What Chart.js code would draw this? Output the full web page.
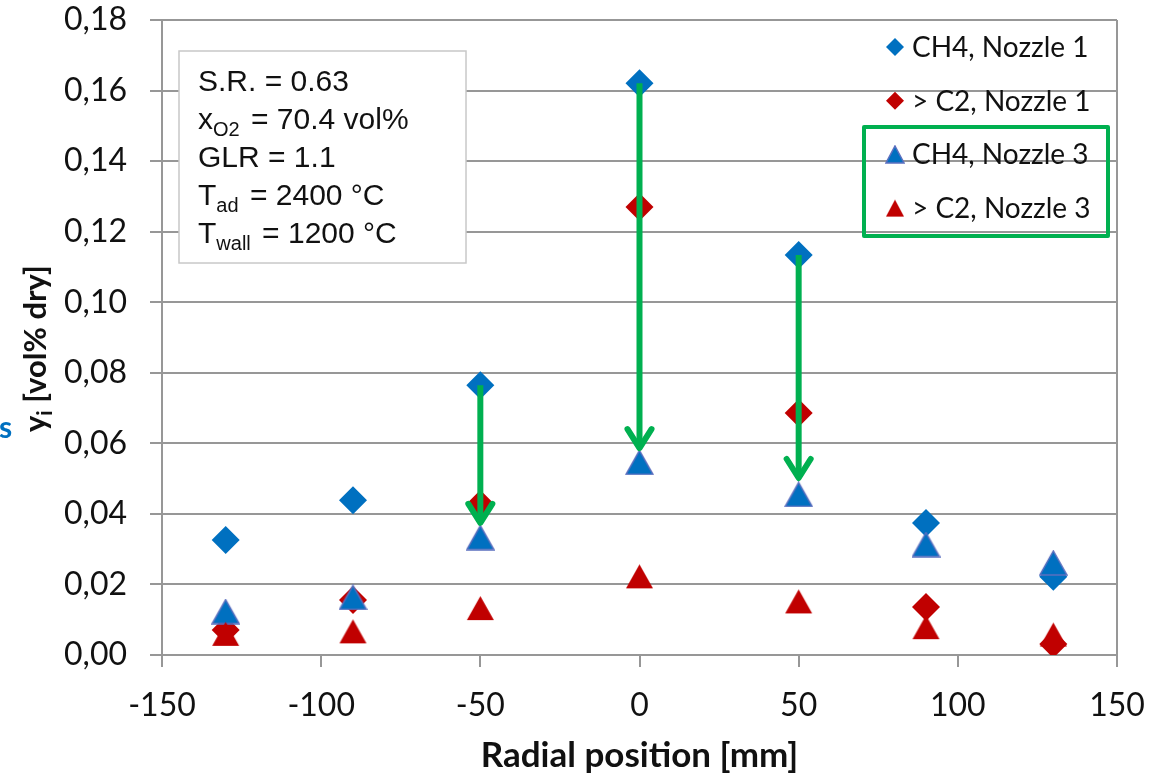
<!DOCTYPE html>
<html><head><meta charset="utf-8">
<script src="https://cdn.jsdelivr.net/npm/chart.js@4.4.1/dist/chart.umd.min.js"></script>
<style>html,body{margin:0;padding:0;background:#fff}#wrap{width:1151px;height:774px;position:relative}</style>
</head><body><div id="wrap"><canvas id="c"></canvas></div>
<script>
const positions = [-130, -90, -50, 0, 50, 90, 130];
const ch4Nozzle1 = [0.0326, 0.0439, 0.0765, 0.1621, 0.1134, 0.0374, 0.0222];
const c2Nozzle1  = [0.0071, 0.0156, 0.0428, 0.1270, 0.0686, 0.0136, 0.0031];
const ch4Nozzle3 = [0.0123, 0.0163, 0.0333, 0.0546, 0.0455, 0.0313, 0.0261];
const c2Nozzle3  = [0.0060, 0.0067, 0.0133, 0.0223, 0.0152, 0.0079, 0.0058];
const seriesLabels = ['CH4, Nozzle 1', '> C2, Nozzle 1', 'CH4, Nozzle 3', '> C2, Nozzle 3'];
const xTickLabels = ['-150', '-100', '-50', '0', '50', '100', '150'];
const yTickLabels = ['0,00', '0,02', '0,04', '0,06', '0,08', '0,10', '0,12', '0,14', '0,16', '0,18'];
const arrowPositions = [-50, 0, 50];
const arrowEnds = [0.0369, 0.0581, 0.0496];
const infoLines = [
  [['S.R. = 0.63', 0]],
  [['x', 0], ['O2', 1], [' = 70.4 vol%', 0]],
  [['GLR = 1.1', 0]],
  [['T', 0], ['ad', 1], [' = 2400 °C', 0]],
  [['T', 0], ['wall', 1], [' = 1200 °C', 0]]
];

const BLUE = '#0070C0', RED = '#C00000', GREEN = '#00B050', GRID = '#979797';

function makeTri(w, h, fill, stroke) {
  const c = document.createElement('canvas');
  c.width = w; c.height = h;
  const g = c.getContext('2d');
  g.beginPath();
  g.moveTo(w / 2, 1); g.lineTo(w - 1, h - 1); g.lineTo(1, h - 1); g.closePath();
  g.fillStyle = fill; g.fill();
  if (stroke) { g.strokeStyle = stroke; g.lineWidth = 1.5; g.stroke(); }
  return c;
}
const triBlue = makeTri(29, 26, BLUE, '#5b6fbf');
const triRed = makeTri(29, 26, RED, null);
const triBlueSm = makeTri(20, 19, BLUE, '#5b6fbf');
const triRedSm = makeTri(20, 19, RED, null);

const pts = arr => positions.map((x, i) => ({ x: x, y: arr[i] }));

const annot = {
  id: 'annot',
  afterDatasetsDraw(chart) {
    const ctx = chart.ctx, xs = chart.scales.x, ys = chart.scales.y, ca = chart.chartArea;
    ctx.save();
    ctx.strokeStyle = GRID; ctx.lineWidth = 2;
    ctx.beginPath(); ctx.moveTo(ca.right, ca.top); ctx.lineTo(ca.right, ca.bottom); ctx.stroke();
    ctx.strokeStyle = GREEN; ctx.lineWidth = 6;
    arrowPositions.forEach((p, k) => {
      const idx = positions.indexOf(p);
      const x = xs.getPixelForValue(p);
      const y1 = ys.getPixelForValue(ch4Nozzle1[idx]);
      const y2 = ys.getPixelForValue(arrowEnds[k]);
      ctx.lineCap = 'butt';
      ctx.beginPath(); ctx.moveTo(x, y1); ctx.lineTo(x, y2 - 3); ctx.stroke();
      ctx.lineCap = 'round'; ctx.lineJoin = 'round';
      ctx.beginPath(); ctx.moveTo(x - 12, y2 - 21); ctx.lineTo(x, y2 - 2); ctx.lineTo(x + 12, y2 - 21); ctx.stroke();
    });
    ctx.restore();
  },
  afterDraw(chart) {
    const ctx = chart.ctx, ca = chart.chartArea;
    ctx.save();
    const bx = ca.left + 17, by = ca.top + 31, bw = 287, bh = 212;
    ctx.fillStyle = '#fff'; ctx.fillRect(bx, by, bw, bh);
    ctx.strokeStyle = '#c8c8c8'; ctx.lineWidth = 1.5; ctx.strokeRect(bx, by, bw, bh);
    ctx.fillStyle = '#111'; ctx.textBaseline = 'alphabetic'; ctx.textAlign = 'left';
    infoLines.forEach((line, li) => {
      let x = bx + 19;
      const base = by + 40 + li * 38;
      line.forEach(([t, sub]) => {
        ctx.font = sub ? '20px "Liberation Sans", Arial, sans-serif' : '30px "Liberation Sans", Arial, sans-serif';
        ctx.fillText(t, x, base + (sub ? 7 : 0));
        x += ctx.measureText(t).width + (sub ? 3 : 0);
      });
    });
    const lx = ca.right - 222, ltx = ca.right - 205;
    const markers = ['d' + BLUE, 'd' + RED, triBlueSm, triRedSm];
    ctx.font = '28px Lato, "Noto Sans", sans-serif';
    ctx.textBaseline = 'middle';
    seriesLabels.forEach((lab, i) => {
      const y = ca.top + 27 + i * 53.7;
      const m = markers[i];
      if (typeof m === 'string') {
        ctx.fillStyle = m.slice(1);
        ctx.beginPath(); ctx.moveTo(lx - 9, y); ctx.lineTo(lx, y - 9); ctx.lineTo(lx + 9, y); ctx.lineTo(lx, y + 9); ctx.closePath(); ctx.fill();
      } else {
        ctx.drawImage(m, lx - m.width / 2, y - m.height / 2);
      }
      ctx.fillStyle = '#111';
      ctx.fillText(lab, ltx, y + 1);
    });
    ctx.strokeStyle = GREEN; ctx.lineWidth = 4; ctx.lineJoin = 'round';
    ctx.strokeRect(ca.right - 253, ca.top + 107, 244, 109);
    ctx.save();
    ctx.translate(46, 432);
    ctx.rotate(-Math.PI / 2);
    ctx.fillStyle = '#111'; ctx.textBaseline = 'alphabetic';
    let tx = 0;
    ctx.font = 'bold 31px Lato, "Noto Sans", sans-serif';
    ctx.fillText('y', tx, 0); tx += ctx.measureText('y').width;
    ctx.font = 'bold 21px Lato, "Noto Sans", sans-serif';
    ctx.fillText('i', tx, 6); tx += ctx.measureText('i').width;
    ctx.font = 'bold 31px Lato, "Noto Sans", sans-serif';
    ctx.fillText(' [vol% dry]', tx, 0);
    ctx.restore();
    ctx.fillStyle = BLUE; ctx.font = 'bold 30px Lato, "Noto Sans", sans-serif';
    ctx.textBaseline = 'alphabetic';
    ctx.fillText('s', -1, 438);
    ctx.restore();
  }
};

new Chart(document.getElementById('c'), {
  type: 'scatter',
  data: {
    datasets: [
      { label: seriesLabels[0], data: pts(ch4Nozzle1), pointStyle: 'rectRot', pointRadius: 14, pointHoverRadius: 14, pointBackgroundColor: BLUE, pointBorderWidth: 0, order: 4 },
      { label: seriesLabels[1], data: pts(c2Nozzle1), pointStyle: 'rectRot', pointRadius: 14, pointHoverRadius: 14, pointBackgroundColor: RED, pointBorderWidth: 0, order: 3 },
      { label: seriesLabels[2], data: pts(ch4Nozzle3), pointStyle: triBlue, pointRadius: 14, pointHoverRadius: 14, order: 2 },
      { label: seriesLabels[3], data: pts(c2Nozzle3), pointStyle: triRed, pointRadius: 14, pointHoverRadius: 14, order: 1 }
    ]
  },
  options: {
    responsive: true, maintainAspectRatio: false, animation: false,
    layout: { padding: { left: 0, right: 34, top: 20, bottom: 0 } },
    plugins: { legend: { display: false }, tooltip: { enabled: false } },
    scales: {
      x: {
        type: 'linear', min: -150, max: 150,
        ticks: { stepSize: 50, color: '#111', padding: 19, font: { family: 'Lato', size: 32 },
          callback: (v, i) => xTickLabels[i] },
        grid: { drawOnChartArea: false, drawTicks: true, tickLength: 12, color: GRID, lineWidth: 2 },
        border: { display: true, color: GRID, width: 2 },
        title: { display: true, text: 'Radial position [mm]', color: '#111', font: { family: 'Lato', size: 35, weight: 'bold' }, padding: { top: 0, bottom: -3 } },
        afterFit: s => { s.height = 119; s.paddingLeft = 0; s.paddingRight = 0; }
      },
      y: {
        type: 'linear', min: 0, max: 0.18,
        ticks: { stepSize: 0.02, color: '#111', padding: 23, font: { family: 'Lato', size: 32 },
          callback: (v, i) => yTickLabels[i] },
        grid: { drawOnChartArea: true, drawTicks: true, tickLength: 12, color: GRID, lineWidth: 2 },
        border: { display: true, color: GRID, width: 2 },
        afterFit: s => { s.width = 162; s.paddingTop = 0; s.paddingBottom = 0; }
      }
    }
  },
  plugins: [annot]
});
</script></body></html>
